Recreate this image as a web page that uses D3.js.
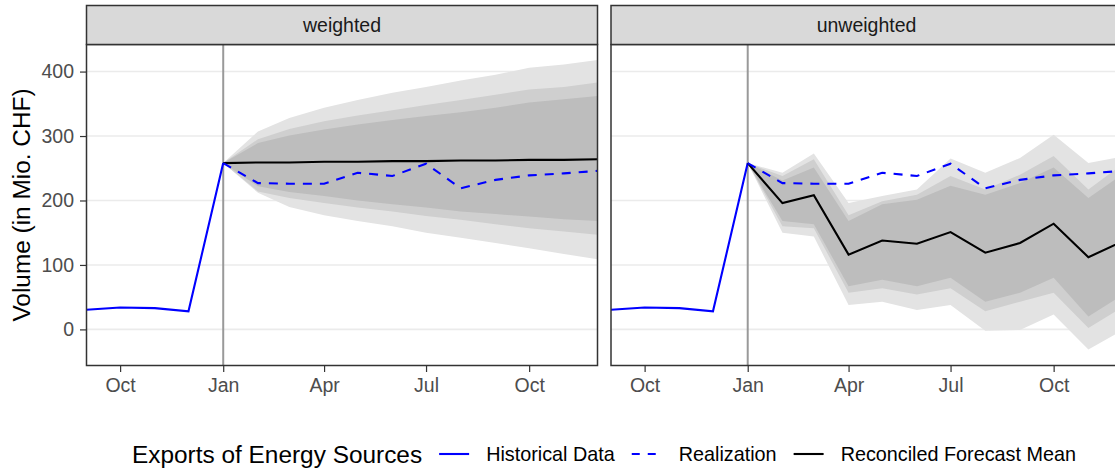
<!DOCTYPE html>
<html lang="en">
<head>
<meta charset="utf-8">
<title>Exports of Energy Sources</title>
<script src="https://cdn.jsdelivr.net/npm/d3@7"></script>
<style>
  body { margin: 0; background: #fff; font-family: "Liberation Sans", Arial, sans-serif; }
  svg { display: block; }
  .axis .tick text { font-family: "Liberation Sans", Arial, sans-serif; font-size: 19.5px; fill: #4d4d4d; }
  .axis .tick line { stroke: #333333; stroke-width: 1.2; }
  .axis .domain { display: none; }
  .strip text { font-size: 19.5px; fill: #1a1a1a; }
  .legend text { fill: #000; }
</style>
</head>
<body>
<div id="viz"></div>
<script>
// historical observations
var histMonths = ["2021-09", "2021-10", "2021-11", "2021-12", "2022-01"];
var histValues = [30.6, 34, 33, 28, 258];

// forecast horizon
var fcMonths = ["2022-01", "2022-02", "2022-03", "2022-04", "2022-05", "2022-06",
                "2022-07", "2022-08", "2022-09", "2022-10", "2022-11", "2022-12"];
var realization = [258, 227, 226, 226, 243, 238, 257, 219, 232, 239, 242, 246];

// weighted reconciliation
var wMean     = [258, 259, 259, 260, 260, 261, 261, 262, 262, 263, 263, 264];
var wInnerHi  = [258, 289, 301, 310, 318, 325, 331, 337, 344, 352, 357, 362];
var wInnerLo  = [258, 222, 213, 207, 200, 194, 189, 183, 179, 175, 171, 168];
var wMidHi    = [258, 295, 311, 323, 332, 340, 348, 356, 364, 372, 376, 383];
var wMidLo    = [258, 214, 204, 196, 189, 183, 176, 170, 163, 157, 152, 147];
var wOuterHi  = [258, 307, 328, 344, 356, 367, 376, 386, 395, 406, 411, 418];
var wOuterLo  = [258, 212, 190, 177, 168, 160, 150, 142, 134, 126, 117, 109];

// unweighted reconciliation
var uMean     = [258, 196, 208, 116, 138, 133, 151, 119, 134, 164, 112, 136];
var uInnerHi  = [258, 231, 251, 168, 194, 201, 223, 209, 227, 251, 204, 240];
var uInnerLo  = [258, 168, 163, 67, 77, 67, 80, 43, 57, 80, 20, 53];
var uMidHi    = [258, 238, 264, 177, 199, 209, 238, 217, 240, 269, 217, 256];
var uMidLo    = [258, 160, 157, 57, 64, 54, 64, 28, 43, 57, 2, 34];
var uOuterHi  = [258, 243, 273, 196, 207, 217, 265, 243, 266, 302, 258, 268];
var uOuterLo  = [258, 150, 144, 38, 43, 30, 38, -2, -1, 23, -31, -2];

var facetNames = ["weighted", "unweighted"];
var yTicks = [0, 100, 200, 300, 400];
var legendTitle = "Exports of Energy Sources";
var legendLabels = ["Historical Data", "Realization", "Reconciled Forecast Mean"];

var parseMonth = d3.timeParse("%Y-%m");
var histDates = histMonths.map(parseMonth);
var fcDates = fcMonths.map(parseMonth);

var facets = [
  {name: facetNames[0], mean: wMean,
   bands: [[wOuterLo, wOuterHi], [wMidLo, wMidHi], [wInnerLo, wInnerHi]]},
  {name: facetNames[1], mean: uMean,
   bands: [[uOuterLo, uOuterHi], [uMidLo, uMidHi], [uInnerLo, uInnerHi]]}
];

var W = 1115, H = 470;
var panelLefts = [86.5, 611];
var panelW = 511;
var stripTop = 5.5, panelTop = 44.5, panelBottom = 365.5;
var bandFills = ["#e3e3e3", "#cfcfcf", "#bdbdbd"];

var svg = d3.select("#viz").append("svg")
  .attr("width", W)
  .attr("height", H);

var y = d3.scaleLinear()
  .domain([-56, 442])
  .range([panelBottom, panelTop]);

var xDomain = [parseMonth("2021-09"), parseMonth("2022-12")];

facets.forEach(function(f, i) {
  var left = panelLefts[i];
  var x = d3.scaleTime().domain(xDomain).range([left, left + panelW]);

  var clipId = "clip" + i;
  svg.append("clipPath").attr("id", clipId)
    .append("rect")
    .attr("x", left).attr("y", panelTop)
    .attr("width", panelW).attr("height", panelBottom - panelTop);

  var g = svg.append("g").attr("clip-path", "url(#" + clipId + ")");

  // grid
  g.selectAll(".grid")
    .data(yTicks)
    .enter().append("line")
    .attr("x1", left).attr("x2", left + panelW)
    .attr("y1", function(d) { return y(d); })
    .attr("y2", function(d) { return y(d); })
    .attr("stroke", "#ebebeb")
    .attr("stroke-width", 1.6);

  // fan bands
  f.bands.forEach(function(b, k) {
    var area = d3.area()
      .x(function(d, j) { return x(fcDates[j]); })
      .y0(function(d, j) { return y(b[0][j]); })
      .y1(function(d, j) { return y(b[1][j]); });
    g.append("path")
      .datum(fcDates)
      .attr("d", area)
      .attr("fill", bandFills[k]);
  });

  // forecast origin
  g.append("line")
    .attr("x1", x(fcDates[0])).attr("x2", x(fcDates[0]))
    .attr("y1", panelTop).attr("y2", panelBottom)
    .attr("stroke", "#999999")
    .attr("stroke-width", 2);

  var line = d3.line()
    .x(function(d) { return x(d[0]); })
    .y(function(d) { return y(d[1]); });

  g.append("path")
    .datum(d3.zip(histDates, histValues))
    .attr("d", line)
    .attr("fill", "none")
    .attr("stroke", "#0000ff")
    .attr("stroke-width", 2.1);

  g.append("path")
    .datum(d3.zip(fcDates, f.mean))
    .attr("d", line)
    .attr("fill", "none")
    .attr("stroke", "#000")
    .attr("stroke-width", 2.1);

  g.append("path")
    .datum(d3.zip(fcDates, realization))
    .attr("d", line)
    .attr("fill", "none")
    .attr("stroke", "#0000ff")
    .attr("stroke-width", 2.1)
    .attr("stroke-dasharray", "9,8");

  // panel border
  svg.append("rect")
    .attr("x", left).attr("y", panelTop)
    .attr("width", panelW).attr("height", panelBottom - panelTop)
    .attr("fill", "none")
    .attr("stroke", "#333333")
    .attr("stroke-width", 1.5);

  // strip
  var strip = svg.append("g").attr("class", "strip");
  strip.append("rect")
    .attr("x", left).attr("y", stripTop)
    .attr("width", panelW).attr("height", panelTop - stripTop)
    .attr("fill", "#d9d9d9")
    .attr("stroke", "#333333")
    .attr("stroke-width", 1.5);
  strip.append("text")
    .attr("x", left + panelW / 2)
    .attr("y", 32)
    .attr("text-anchor", "middle")
    .text(f.name);

  // x axis
  svg.append("g")
    .attr("class", "axis")
    .attr("transform", "translate(0," + panelBottom + ")")
    .call(d3.axisBottom(x)
      .ticks(d3.timeMonth.every(3))
      .tickFormat(d3.timeFormat("%b"))
      .tickSize(6.5)
      .tickPadding(6));

  if (i === 0) {
    svg.append("g")
      .attr("class", "axis")
      .attr("transform", "translate(" + left + ",0)")
      .call(d3.axisLeft(y)
        .tickValues(yTicks)
        .tickSize(6.5)
        .tickPadding(6));
  }
});

// y title
svg.append("text")
  .attr("transform", "translate(30," + ((panelTop + panelBottom) / 2) + ") rotate(-90)")
  .attr("text-anchor", "middle")
  .attr("font-size", 24.4)
  .attr("fill", "#000")
  .text("Volume (in Mio. CHF)");

// legend
var legend = svg.append("g").attr("class", "legend");
var ly = 454;
var title = legend.append("text")
  .attr("x", 132).attr("y", ly + 8.5)
  .attr("font-size", 24.4)
  .text(legendTitle);
var cursor = 132 + title.node().getComputedTextLength() + 17;
var keyStyles = [
  {color: "#0000ff", dash: null},
  {color: "#0000ff", dash: "8,8"},
  {color: "#000", dash: null}
];
legendLabels.forEach(function(lab, k) {
  legend.append("line")
    .attr("x1", cursor).attr("x2", cursor + 30)
    .attr("y1", ly).attr("y2", ly)
    .attr("stroke", keyStyles[k].color)
    .attr("stroke-width", 2.1)
    .attr("stroke-dasharray", keyStyles[k].dash);
  var t = legend.append("text")
    .attr("x", cursor + 47).attr("y", ly + 7)
    .attr("font-size", 19.8)
    .text(lab);
  cursor = cursor + 47 + t.node().getComputedTextLength() + 17;
});
</script>
</body>
</html>
